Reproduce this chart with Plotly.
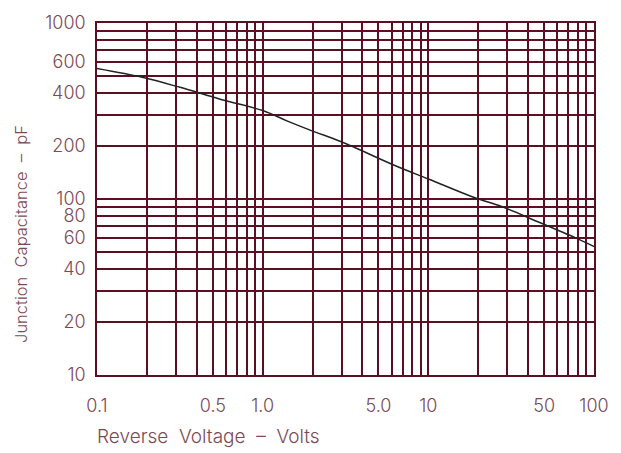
import plotly.graph_objects as go

# Data
voltage = [0.1, 0.19, 0.317, 0.56, 1.0, 1.40, 1.90, 2.93, 3.52, 6.28, 10, 18.9, 27.7, 45.8, 77.4, 100]
capacitance = [551, 490, 431, 368, 318, 278, 248, 213, 198, 155, 130, 102, 90.6, 74.3, 60.1, 53.7]

x_grid = [0.1, 0.2, 0.3, 0.4, 0.5, 0.6, 0.7, 0.8, 0.9, 1, 2, 3, 4, 5, 6, 7, 8, 9, 10,
          20, 30, 40, 50, 60, 70, 80, 90, 100]
x_labels = {0.1: "0.1", 0.5: "0.5", 1: "1.0", 5: "5.0", 10: "10", 50: "50", 100: "100"}
y_grid = [10, 20, 30, 40, 50, 60, 70, 80, 90, 100, 200, 300, 400, 500, 600, 700, 800, 900, 1000]
y_labels = {10: "10", 20: "20", 40: "40", 60: "60", 80: "80", 100: "100",
            200: "200", 400: "400", 600: "600", 1000: "1000"}

x_title = "Reverse  Voltage  –  Volts"
y_title = "Junction  Capacitance  –  pF"

GRID = "#5a0f23"
TEXT = "#7a4a57"
FONT = "Inter"
W = 300

fig = go.Figure()
fig.add_trace(go.Scatter(x=voltage, y=capacitance, mode="lines",
                         line=dict(color="#222222", width=1.5, shape="spline"),
                         showlegend=False, hoverinfo="skip"))

fig.update_layout(
    width=621, height=453,
    margin=dict(l=97, r=27, t=14, b=78),
    paper_bgcolor="white", plot_bgcolor="white",
    font=dict(family=FONT, size=17, color=TEXT, weight=W),
    xaxis=dict(type="log", range=[-1, 2], tickmode="array", tickvals=x_grid,
               ticktext=[x_labels.get(v, "") for v in x_grid],
               showgrid=True, gridcolor=GRID, gridwidth=1.5,
               showline=True, linecolor=GRID, linewidth=1.5, mirror=True,
               ticks="", ticklabelstandoff=14, zeroline=False,
               tickfont=dict(family=FONT, size=18, color=TEXT, weight=W)),
    yaxis=dict(type="log", range=[1, 3], tickmode="array", tickvals=y_grid,
               ticktext=[y_labels.get(v, "") for v in y_grid],
               showgrid=True, gridcolor=GRID, gridwidth=1.5,
               showline=True, linecolor=GRID, linewidth=1.5, mirror=True,
               ticks="", ticklabelstandoff=6, zeroline=False,
               tickfont=dict(family=FONT, size=18, color=TEXT, weight=W)),
    annotations=[
        dict(text=x_title, xref="paper", yref="paper", x=-0.004, y=-0.1737,
             xanchor="left", yanchor="middle", showarrow=False,
             font=dict(family=FONT, size=19, color=TEXT, weight=W)),
        dict(text=y_title, xref="paper", yref="paper", x=-0.152, y=0.402,
             xanchor="center", yanchor="middle", textangle=-90,
             showarrow=False, font=dict(family=FONT, size=16.5, color=TEXT, weight=W)),
    ],
)

fig.write_html("out.html", config={"displayModeBar": False},
               post_script="document.body.style.margin='0';")
